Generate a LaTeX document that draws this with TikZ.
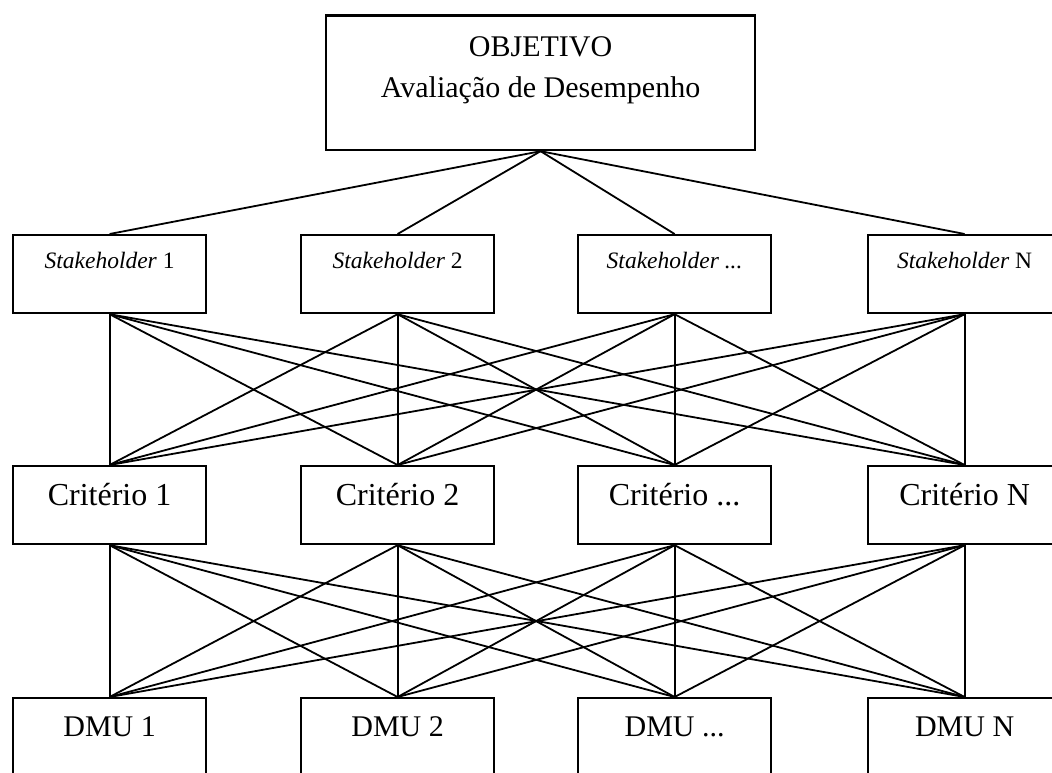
\documentclass[tikz,border=0pt]{standalone}
\usepackage{fontspec}
\setmainfont{Liberation Serif}
\begin{document}
\begin{tikzpicture}[x=1pt,y=-1pt,
  box/.style={draw, line width=2.2pt, inner sep=0pt, minimum width=193pt,
    minimum height=78pt, anchor=north west, font=\fontsize{30}{36}\selectfont},
  sbox/.style={box, text height=33pt, text depth=45pt,
    font=\fontsize{23.5}{28}\selectfont},
  cbox/.style={box, text height=39pt, text depth=39pt,
    font=\fontsize{32}{38}\selectfont},
  dbox/.style={box, text height=38pt, text depth=40pt},
  link/.style={line width=1.8pt}]
\fill[white] (0,0) rectangle (1052,773);
\useasboundingbox (0,0) rectangle (1052,773);

% goal
\node[draw, line width=2.2pt, inner sep=0pt, minimum width=429pt,
  text height=81.5pt, text depth=53pt, align=center, anchor=north west,
  font=\fontsize{30}{41}\selectfont] (obj) at (325,14.5)
  {OBJETIVO\\Avaliação de Desempenho};

% stakeholders
\node[sbox] (s1) at (12,234)  {\textit{Stakeholder} 1};
\node[sbox] (s2) at (300,234) {\textit{Stakeholder} 2};
\node[sbox] (s3) at (577,234) {\textit{Stakeholder ...}};
\node[sbox] (s4) at (867,234) {\textit{Stakeholder} N};

% criteria
\node[cbox] (c1) at (12,465)  {Critério 1};
\node[cbox] (c2) at (300,465) {Critério 2};
\node[cbox] (c3) at (577,465) {Critério ...};
\node[cbox] (c4) at (867,465) {Critério N};

% decision making units
\node[dbox] (d1) at (12,697)  {DMU 1};
\node[dbox] (d2) at (300,697) {DMU 2};
\node[dbox] (d3) at (577,697) {DMU ...};
\node[dbox] (d4) at (867,697) {DMU N};

% links between levels
\foreach \i in {1,...,4}
  \draw[link] (obj.south) -- (s\i.north);
\foreach \i in {1,...,4}
  \foreach \j in {1,...,4}
  {
    \draw[link] (s\i.south) -- (c\j.north);
    \draw[link] (c\i.south) -- (d\j.north);
  }
\end{tikzpicture}
\end{document}
